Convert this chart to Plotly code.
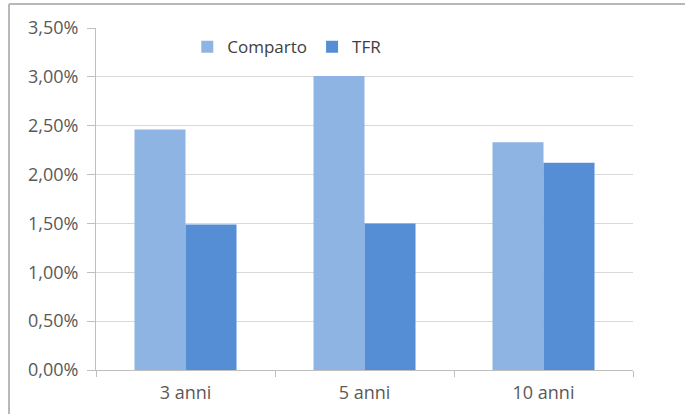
import plotly.graph_objects as go

categories = ["3 anni", "5 anni", "10 anni"]
comparto = [0.0246, 0.0301, 0.0233]
tfr = [0.0149, 0.0150, 0.0212]
y_ticks = [0, 0.005, 0.01, 0.015, 0.02, 0.025, 0.03, 0.035]

FONT = "Open Sans"

fig = go.Figure()
fig.add_trace(go.Bar(name="Comparto", x=categories, y=comparto,
                     marker=dict(color="#8EB4E3", line=dict(width=0))))
fig.add_trace(go.Bar(name="TFR", x=categories, y=tfr,
                     marker=dict(color="#558ED5", line=dict(width=0))))

fig.update_layout(
    width=685, height=414,
    margin=dict(l=96, r=52, t=28, b=44),
    paper_bgcolor="white", plot_bgcolor="white",
    barmode="group", bargap=0.43, bargroupgap=0,
    separators=",.",
    font=dict(family=FONT, size=18, color="#595959"),
    showlegend=True,
    legend=dict(orientation="h", x=0.17, y=0.944, xanchor="left", yanchor="middle",
                font=dict(family=FONT, size=17, color="#404040"),
                bgcolor="rgba(0,0,0,0)", itemwidth=30, traceorder="normal"),
    xaxis=dict(showgrid=False, showline=True, linecolor="#BFBFBF", linewidth=1,
               ticks="outside", tickson="boundaries", ticklen=6, tickcolor="#BFBFBF",
               ticklabelstandoff=6, automargin=False,
               tickfont=dict(family=FONT, size=18, color="#595959")),
    yaxis=dict(range=[0, 0.035], tickvals=y_ticks, tickformat=".2%",
               showgrid=True, gridcolor="#D9D9D9", gridwidth=1,
               showline=True, linecolor="#BFBFBF", linewidth=1,
               ticks="outside", ticklen=8, tickcolor="#BFBFBF",
               ticklabelstandoff=5, automargin=False,
               tickfont=dict(family=FONT, size=18, color="#595959"),
               zeroline=False),
    shapes=[
        dict(type="line", xref="paper", yref="paper",
             x0=(9 - 96) / 537, x1=(685 - 96) / 537, y0=(370 - 4) / 342, y1=(370 - 4) / 342,
             line=dict(color="#B8B8B8", width=2)),
        dict(type="line", xref="paper", yref="paper",
             x0=(9 - 96) / 537, x1=(9 - 96) / 537, y0=(370 - 4) / 342, y1=(370 - 414) / 342,
             line=dict(color="#B8B8B8", width=2)),
    ],
)

fig.write_html("out.html",
               config={"displayModeBar": False},
               post_script="document.body.style.margin='0';document.body.style.overflow='hidden';")
